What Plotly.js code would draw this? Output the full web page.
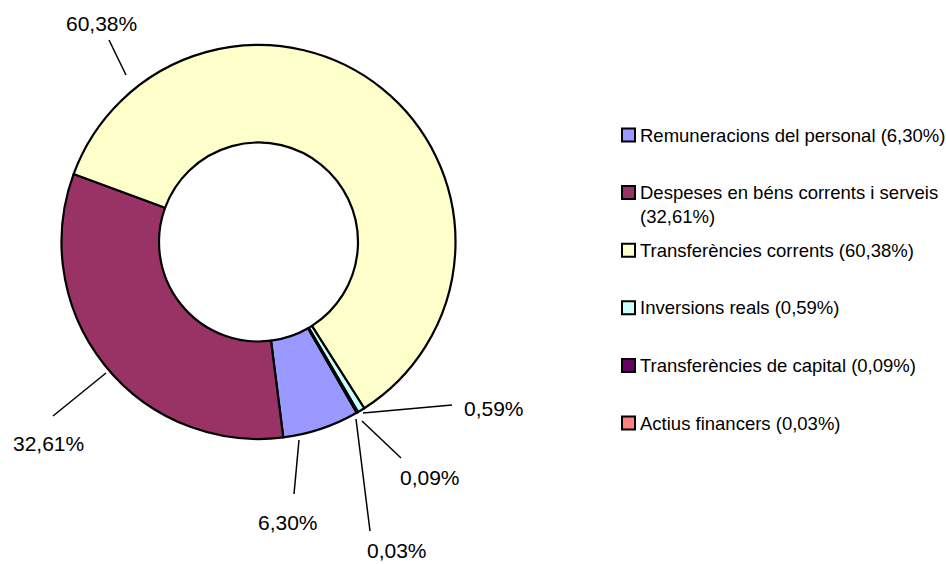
<!DOCTYPE html>
<html><head><meta charset="utf-8">
<script src="https://cdn.plot.ly/plotly-3.0.1.min.js"></script>
<style>html,body{margin:0;padding:0;background:#fff}#chart{width:946px;height:564px}</style>
</head><body><div id="chart"></div>
<script>
// ---- data ----
const categories = ["Remuneracions del personal", "Despeses en béns corrents i serveis", "Transferències corrents", "Inversions reals", "Transferències de capital", "Actius financers"];
const shares = [6.30, 32.61, 60.38, 0.59, 0.09, 0.03];
const legendLabels = ["Remuneracions del personal (6,30%)", "Despeses en béns corrents i serveis<br>(32,61%)", "Transferències corrents (60,38%)", "Inversions reals (0,59%)", "Transferències de capital (0,09%)", "Actius financers (0,03%)"];
const sliceColors = ["#9999FF", "#993366", "#FFFFCC", "#CCFFFF", "#660066", "#FF8080"];

// ---- style / layout config (pixels) ----
const W = 946, H = 564;
const CX = 258.5, CY = 242, R = 197;
const ROT = 150.1;
const labelFont = {family: "Arial, 'Liberation Sans', sans-serif", size: 21, color: "#000"};
const legendFont = {family: "Arial, 'Liberation Sans', sans-serif", size: 18.5, color: "#000"};
// per slice: label centre, leader start, leader end
const labelCfg = [
  {tx: 288, ty: 522, x0: 299, y0: 440, x1: 294, y1: 494},
  {tx: 48,  ty: 443, x0: 106, y0: 373, x1: 53,  y1: 416},
  {tx: 101, ty: 24,  x0: 126, y0: 75,  x1: 109, y1: 40},
  {tx: 494, ty: 408, x0: 363, y0: 413, x1: 452, y1: 405},
  {tx: 430, ty: 478, x0: 362, y0: 421, x1: 401, y1: 458},
  {tx: 397, ty: 550, x0: 356, y0: 419, x1: 370, y1: 531}
];
const legX = 622, legBox = 13, legTextX = 639, legY0 = 135, legStep = 57.6, legLineGap = 23;

const px = x => x / W, py = y => 1 - y / H;
const fmt = v => v.toFixed(2).replace('.', ',') + '%';

const trace = {
  type: 'pie', values: shares, labels: categories, sort: false,
  direction: 'clockwise', rotation: ROT, hole: 0.505,
  marker: {colors: sliceColors, line: {color: '#000', width: 2.2}},
  textinfo: 'none', hoverinfo: 'none', showlegend: false,
  domain: {x: [px(CX - R), px(CX + R)], y: [py(CY + R), py(CY - R)]}
};

const shapes = [], annotations = [];
shares.forEach((v, i) => {
  const c = labelCfg[i];
  shapes.push({type: 'line', xref: 'paper', yref: 'paper', x0: px(c.x0), y0: py(c.y0), x1: px(c.x1), y1: py(c.y1), line: {color: '#000', width: 1.5}});
  annotations.push({text: fmt(v), xref: 'paper', yref: 'paper', x: px(c.tx), y: py(c.ty), xanchor: 'center', yanchor: 'middle', showarrow: false, font: labelFont, borderpad: 0});
});
legendLabels.forEach((t, i) => {
  const yc = legY0 + i * legStep;
  const nLines = t.split('<br>').length;
  shapes.push({type: 'rect', xref: 'paper', yref: 'paper', x0: px(legX), x1: px(legX + legBox), y0: py(yc + legBox / 2), y1: py(yc - legBox / 2), fillcolor: sliceColors[i], line: {color: '#000', width: 2}});
  annotations.push({text: t, xref: 'paper', yref: 'paper', x: px(legTextX), y: py(yc + (nLines - 1) * legLineGap / 2), xanchor: 'left', yanchor: 'middle', align: 'left', showarrow: false, font: legendFont, borderpad: 0});
});

const layout = {
  width: W, height: H, margin: {l: 0, r: 0, t: 0, b: 0},
  paper_bgcolor: '#fff', plot_bgcolor: '#fff', showlegend: false,
  shapes: shapes, annotations: annotations
};
Plotly.newPlot('chart', [trace], layout, {staticPlot: true, displayModeBar: false});
</script></body></html>
